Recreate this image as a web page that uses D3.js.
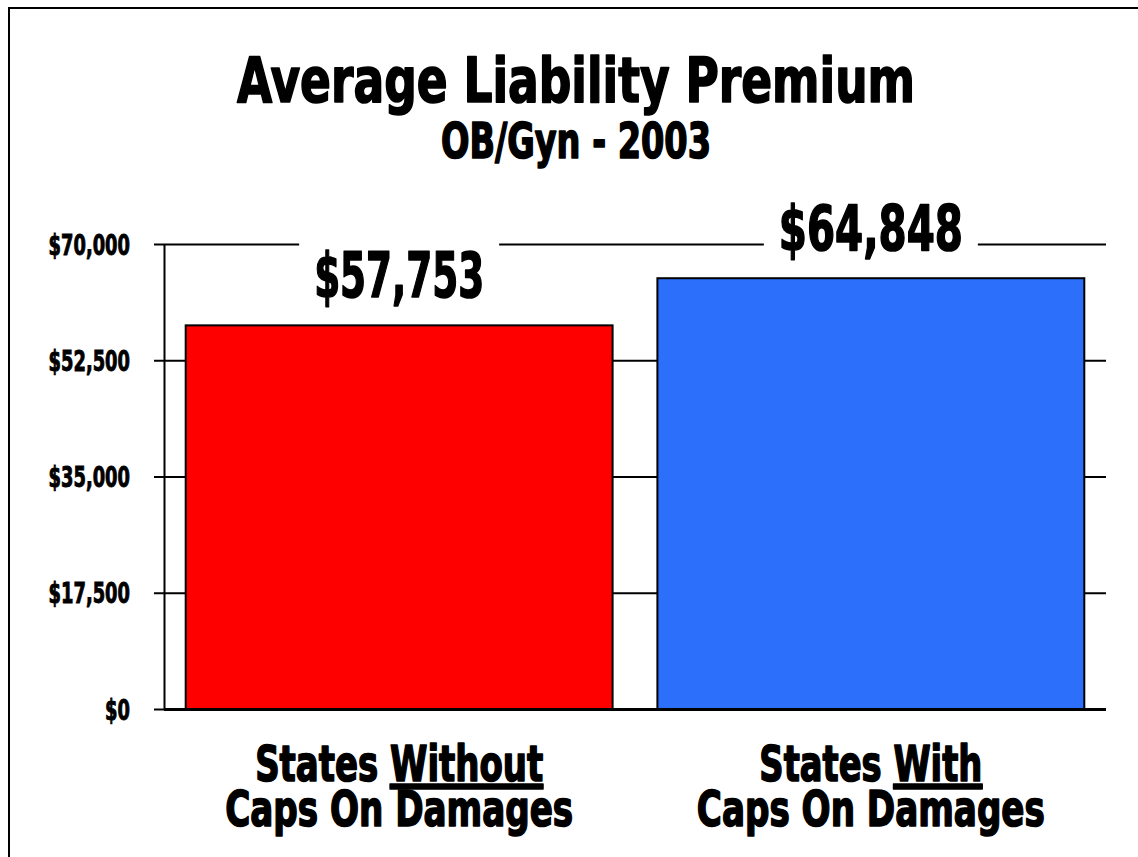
<!DOCTYPE html>
<html>
<head>
<meta charset="utf-8">
<script src="https://cdn.jsdelivr.net/npm/d3@7"></script>
<style>
  body { margin: 0; background: #fff; }
  text { font-family: "DejaVu Sans Condensed", "DejaVu Sans", sans-serif; font-weight: bold; fill: #000; }
  .heavy { stroke: #000; stroke-width: 1.6; stroke-linejoin: round; }
</style>
</head>
<body>
<svg id="chart"></svg>
<script>
// chart values
const categories = ["Without", "With"];
const premiums = [57753, 64848];
const barColors = ["#ff0000", "#2c6ffa"];
const yTicks = [0, 17500, 35000, 52500, 70000];
const titleText = "Average Liability Premium";
const subtitleText = "OB/Gyn - 2003";

const width = 1138, height = 857;
const padding = { top: 244, right: 32, bottom: 148, left: 164 };

let svg = d3.select("#chart")
            .attr("width", width)
            .attr("height", height);

// squeeze a text to a given width so it looks like a condensed face
function fit(sel, w) {
    sel.attr("textLength", w).attr("lengthAdjust", "spacingAndGlyphs");
}
function condense(sel, k) {
    sel.each(function() {
        let natural = this.getComputedTextLength();
        d3.select(this).attr("textLength", natural * k).attr("lengthAdjust", "spacingAndGlyphs");
    });
}

// frame
svg.append("rect")
    .attr("x", 9).attr("y", 8)
    .attr("width", width + 10).attr("height", height + 10)
    .attr("fill", "none").attr("stroke", "#000").attr("stroke-width", 2);

let xScale = d3.scaleBand()
                .domain(categories)
                .range([padding.left, width - padding.right])
                .paddingInner(0.095)
                .paddingOuter(0.046);
let yScale = d3.scaleLinear()
                .domain([0, 70000])
                .range([height - padding.bottom, padding.top]);

let fmt = d => "$" + d3.format(",")(d);

// grid lines
let grid = svg.append("g")
    .attr("transform", "translate(" + padding.left + ",0)")
    .call(d3.axisLeft(yScale).tickValues(yTicks)
            .tickSize(-(width - padding.right - padding.left)).tickFormat(""));
grid.select(".domain").remove();
grid.selectAll("line").attr("stroke", "#000").attr("stroke-width", 2);
grid.selectAll(".tick").filter(d => d === 0).select("line").attr("stroke-width", 3);

// left axis with labels
let yAxis = svg.append("g")
    .attr("transform", "translate(" + padding.left + ",0)")
    .call(d3.axisLeft(yScale).tickValues(yTicks).tickSize(10).tickSizeOuter(0)
            .tickPadding(24).tickFormat(fmt));
yAxis.select(".domain").attr("stroke", "#000").attr("stroke-width", 2);
yAxis.selectAll("line").attr("stroke", "#000").attr("stroke-width", 2);
yAxis.selectAll("text")
    .attr("font-size", 28)
    .attr("dy", "0.36em")
    .style("font-family", "'DejaVu Sans Condensed', 'DejaVu Sans', sans-serif")
    .style("font-weight", "bold")
    .style("stroke", "#000")
    .style("stroke-width", 0.9)
    .call(condense, 0.71);

// bars
svg.selectAll(".bar")
    .data(premiums)
    .enter()
    .append("rect")
      .classed("bar", true)
      .attr("x", (d, i) => xScale(categories[i]))
      .attr("width", xScale.bandwidth())
      .attr("y", d => yScale(d))
      .attr("height", d => yScale(0) - yScale(d))
      .attr("fill", (d, i) => barColors[i])
      .attr("stroke", "#000")
      .attr("stroke-width", 2);

// value labels with white backing that cuts the grid line
let valueWidths = [170, 184];
let labels = svg.selectAll(".value")
    .data(premiums)
    .enter()
    .append("g")
      .classed("value", true);
labels.append("rect").attr("fill", "#fff");
labels.append("text")
    .classed("heavy", true)
    .attr("x", (d, i) => xScale(categories[i]) + xScale.bandwidth() / 2)
    .attr("y", d => yScale(d) - 28)
    .attr("text-anchor", "middle")
    .attr("font-size", 63)
    .text(fmt)
    .each(function(d, i) { fit(d3.select(this), valueWidths[i]); });
labels.each(function() {
    let g = d3.select(this);
    let b = g.select("text").node().getBBox();
    g.select("rect")
        .attr("x", b.x - 15).attr("y", b.y - 4)
        .attr("width", b.width + 30).attr("height", b.height + 4);
});

// titles
svg.append("text")
    .classed("heavy", true)
    .attr("x", 576).attr("y", 102)
    .attr("text-anchor", "middle")
    .attr("font-size", 62)
    .text(titleText)
    .call(fit, 678);
svg.append("text")
    .classed("heavy", true)
    .attr("x", 576).attr("y", 158)
    .attr("text-anchor", "middle")
    .attr("font-size", 49)
    .text(subtitleText)
    .call(fit, 270);

// category labels
let line1Widths = [288, 223];
categories.forEach((c, i) => {
    let cx = xScale(c) + xScale.bandwidth() / 2;
    let t1 = svg.append("text")
        .classed("heavy", true)
        .attr("x", cx).attr("y", 781)
        .attr("text-anchor", "middle")
        .attr("font-size", 50);
    t1.append("tspan").text("States ");
    t1.append("tspan").text(c).style("text-decoration", "underline");
    fit(t1, line1Widths[i]);

    svg.append("text")
        .classed("heavy", true)
        .attr("x", cx).attr("y", 826)
        .attr("text-anchor", "middle")
        .attr("font-size", 50)
        .text("Caps On Damages")
        .call(fit, 348);
});
</script>
</body>
</html>
